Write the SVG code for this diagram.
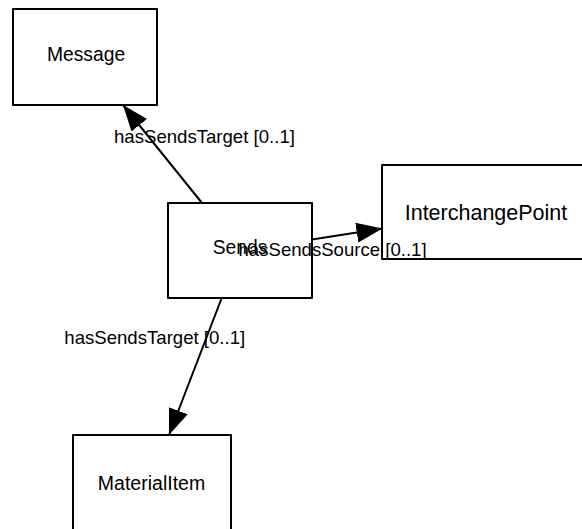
<svg xmlns="http://www.w3.org/2000/svg" width="582" height="529" viewBox="0 0 582 529">
<style>
.box{fill:#fff;stroke:#000;stroke-width:2;stroke-linejoin:round}
.name{font-family:"Liberation Sans",Arial,sans-serif;font-size:19.3px;fill:#000;text-anchor:middle}
.edge{stroke:#000;stroke-width:2;fill:none}
.lbl{font-family:"Liberation Sans",Arial,sans-serif;font-size:18.6px;fill:#000}
</style>
<defs>
<marker id="arr" markerUnits="userSpaceOnUse" markerWidth="28" markerHeight="22" refX="26" refY="10" orient="auto">
<path d="M0,0 L26,10 L0,20 z" fill="#000"/>
</marker>
</defs>
<rect width="582" height="529" fill="#fff"/>
<g id="Message">
<rect class="box" x="13" y="9" width="144" height="96"/>
<text class="name" x="86" y="61">Message</text>
</g>
<g id="Sends">
<rect class="box" x="168" y="203" width="144" height="95"/>
<text class="name" x="240" y="254">Sends</text>
</g>
<g id="InterchangePoint">
<rect class="box" x="382" y="165" width="210" height="94"/>
<text class="name" x="486" y="220" style="font-size:21.5px">InterchangePoint</text>
</g>
<g id="MaterialItem">
<rect class="box" x="73" y="435" width="158" height="110"/>
<text class="name" x="151.5" y="490" style="font-size:19.5px">MaterialItem</text>
</g>
<g id="connectors">
<line class="edge" x1="202" y1="203" x2="123" y2="105" marker-end="url(#arr)"/>
<line class="edge" x1="312" y1="239.5" x2="382.5" y2="228.5" marker-end="url(#arr)"/>
<line class="edge" x1="221.7" y1="298" x2="169" y2="435" marker-end="url(#arr)"/>
<text class="lbl" x="114" y="143">hasSendsTarget [0..1]</text>
<text class="lbl" x="238.5" y="255.5">hasSendsSource [0..1]</text>
<text class="lbl" x="64.3" y="344">hasSendsTarget [0..1]</text>
</g>
</svg>
